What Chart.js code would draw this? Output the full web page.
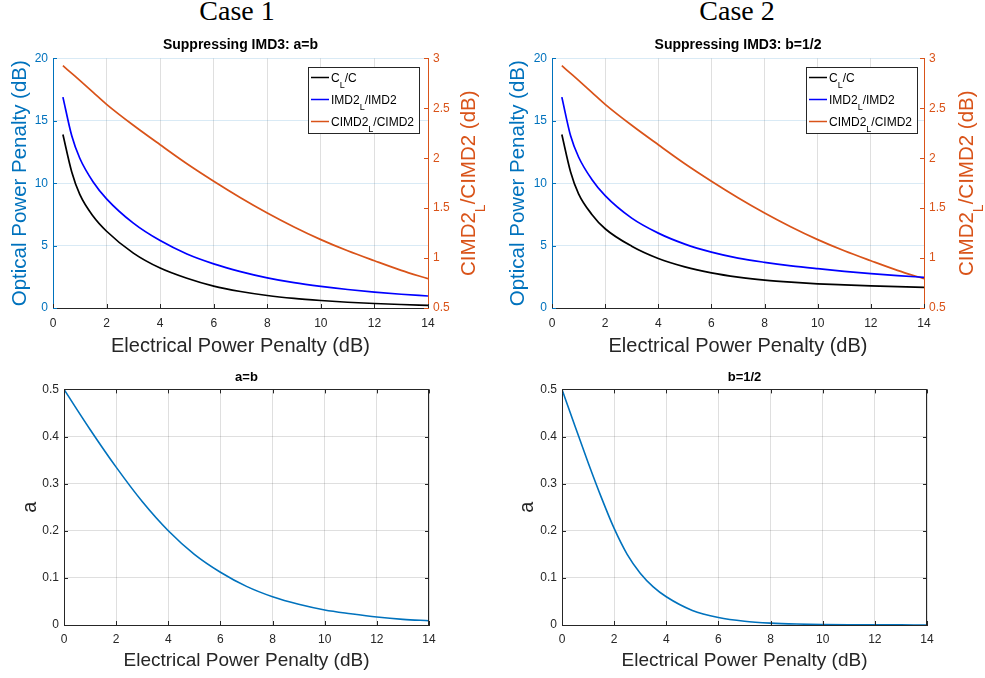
<!DOCTYPE html>
<html>
<head>
<meta charset="utf-8">
<script src="https://cdn.jsdelivr.net/npm/chart.js@4.4.0/dist/chart.umd.min.js"></script>
<style>
  body { margin: 0; background: #fff; }
  #wrap { position: relative; width: 985px; height: 678px; overflow: hidden; }
  canvas { position: absolute; }
  .case { position: absolute; top: -5px; width: 200px; text-align: center;
          font-family: "Liberation Serif", "Times New Roman", serif; font-size: 28px;
          line-height: 32px; color: #000; }
</style>
</head>
<body>
<div id="wrap">
  <div class="case" style="left:137px">Case 1</div>
  <div class="case" style="left:637px">Case 2</div>
  <canvas id="c1" width="490" height="326" style="left:0;top:34px"></canvas>
  <canvas id="c2" width="490" height="326" style="left:495px;top:34px"></canvas>
  <canvas id="c3" width="490" height="313" style="left:0;top:365px"></canvas>
  <canvas id="c4" width="490" height="313" style="left:495px;top:365px"></canvas>
</div>
<script>
// electrical power penalty samples (dB) for the upper plots
const penaltyX = [0.37, 0.7, 1, 1.5, 2, 3, 4, 5, 6, 7, 8, 9, 10, 11, 12, 13, 14];

// case 1 (a=b)
const case1Carrier = [13.9, 10.9, 9.1, 7.35, 6.15, 4.4, 3.2, 2.38, 1.75, 1.32, 1.0, 0.77, 0.6, 0.46, 0.36, 0.28, 0.21];
const case1Imd2 = [16.9, 13.8, 12.0, 10.1, 8.75, 6.8, 5.4, 4.33, 3.54, 2.92, 2.42, 2.03, 1.73, 1.48, 1.27, 1.1, 0.96];
const case1Cimd2 = [2.927, 2.85, 2.78, 2.66, 2.54, 2.33, 2.135, 1.945, 1.77, 1.605, 1.452, 1.312, 1.185, 1.073, 0.973, 0.877, 0.793];

// case 2 (b=1/2)
const case2Carrier = [13.9, 10.9, 9.15, 7.5, 6.35, 4.95, 3.97, 3.3, 2.82, 2.48, 2.24, 2.07, 1.94, 1.85, 1.77, 1.71, 1.66];
const case2Imd2 = [16.9, 13.8, 12.1, 10.3, 9.0, 7.2, 6.0, 5.12, 4.48, 4.0, 3.66, 3.38, 3.15, 2.94, 2.76, 2.6, 2.46];
const case2Cimd2 = [2.927, 2.85, 2.78, 2.66, 2.54, 2.33, 2.135, 1.945, 1.77, 1.605, 1.452, 1.312, 1.185, 1.073, 0.973, 0.877, 0.793];

// lower plots: a vs electrical penalty
const aEqBX = [0, 1, 2, 3, 4, 5, 6, 7, 8, 9, 10, 11, 12, 13, 14];
const aEqB = [0.5, 0.415, 0.335, 0.262, 0.2, 0.15, 0.112, 0.082, 0.06, 0.044, 0.032, 0.024, 0.017, 0.012, 0.009];
const aHalfBX = [0, 0.5, 1, 1.5, 2, 2.5, 3, 3.5, 4, 5, 6, 7, 8, 9, 10, 11, 12, 13, 14];
const aHalfB = [0.5, 0.422, 0.345, 0.272, 0.205, 0.15, 0.11, 0.081, 0.06, 0.031, 0.016, 0.008, 0.004, 0.002, 0.001, 0.0005, 0.0003, 0.0002, 0.0001];

// legend / title text, pieces flagged 1 are subscripts
const legendLabels = [
  [['C', 0], ['L', 1], ['/C', 0]],
  [['IMD2', 0], ['L', 1], ['/IMD2', 0]],
  [['CIMD2', 0], ['L', 1], ['/CIMD2', 0]]
];
const rightAxisTitle = [['CIMD2', 0], ['L', 1], ['/CIMD2 (dB)', 0]];

const FONT = '"Liberation Sans", Arial, Helvetica, sans-serif';
const BLUE = '#0072BD', ORANGE = '#D95319', DARK = '#262626';
Chart.defaults.font.family = FONT;

const pts = (xs, ys) => xs.map((x, i) => ({ x: x, y: ys[i] }));
const plainNum = v => String(Number(v.toFixed(2)));

function subWidth(ctx, parts, size, subSize) {
  let w = 0;
  parts.forEach(([t, sub]) => {
    ctx.font = (sub ? subSize : size) + 'px ' + FONT;
    w += ctx.measureText(t).width;
  });
  return w;
}
function drawSub(ctx, parts, x, y, size, subSize, subDy) {
  let cx = x;
  parts.forEach(([t, sub]) => {
    ctx.font = (sub ? subSize : size) + 'px ' + FONT;
    ctx.fillText(t, cx, sub ? y + subDy : y);
    cx += ctx.measureText(t).width;
  });
}

// matlab-ish inward ticks and box edges
const innerTicks = {
  id: 'innerTicks',
  afterDatasetsDraw(chart, args, o) {
    const { ctx, chartArea: a, scales } = chart;
    const len = 4;
    ctx.save();
    ctx.lineWidth = 1;
    if (o.box) {
      ctx.strokeStyle = DARK;
      ctx.beginPath();
      ctx.moveTo(a.left, Math.round(a.top) + 0.5);
      ctx.lineTo(a.right, Math.round(a.top) + 0.5);
      ctx.moveTo(Math.round(a.right) - 0.5, a.top);
      ctx.lineTo(Math.round(a.right) - 0.5, a.bottom);
      ctx.stroke();
    }
    (o.specs || []).forEach(s => {
      const sc = scales[s.axis];
      ctx.strokeStyle = s.color;
      ctx.beginPath();
      sc.ticks.forEach(t => {
        const p = Math.round(sc.getPixelForValue(t.value)) + 0.5;
        s.sides.forEach(side => {
          if (side === 'bottom') { ctx.moveTo(p, a.bottom); ctx.lineTo(p, a.bottom - len); }
          if (side === 'top') { ctx.moveTo(p, a.top); ctx.lineTo(p, a.top + len); }
          if (side === 'left') { ctx.moveTo(a.left, p); ctx.lineTo(a.left + len, p); }
          if (side === 'right') { ctx.moveTo(a.right, p); ctx.lineTo(a.right - len, p); }
        });
      });
      ctx.stroke();
    });
    ctx.restore();
  }
};

const subLegend = {
  id: 'subLegend',
  afterDatasetsDraw(chart, args, o) {
    if (!o.show) return;
    const { ctx, chartArea: a } = chart;
    const w = 111, h = 66;
    const x0 = Math.round(a.right - o.right - w), y0 = Math.round(a.top + 9);
    ctx.save();
    ctx.fillStyle = '#fff';
    ctx.fillRect(x0, y0, w, h);
    ctx.strokeStyle = DARK;
    ctx.lineWidth = 1;
    ctx.strokeRect(x0 + 0.5, y0 + 0.5, w, h);
    chart.data.datasets.forEach((ds, i) => {
      const y = y0 + 10.5 + i * 22;
      ctx.strokeStyle = ds.borderColor;
      ctx.lineWidth = 1.5;
      ctx.beginPath();
      ctx.moveTo(x0 + 3, y);
      ctx.lineTo(x0 + 21, y);
      ctx.stroke();
      ctx.fillStyle = '#000';
      ctx.textBaseline = 'alphabetic';
      drawSub(ctx, legendLabels[i], x0 + 23, y + 4, 12, 9, 6);
    });
    ctx.restore();
  }
};

const rightTitle = {
  id: 'rightTitle',
  afterDraw(chart, args, o) {
    if (!o.show) return;
    const { ctx, chartArea: a } = chart;
    ctx.save();
    ctx.translate(o.x, (a.top + a.bottom) / 2);
    ctx.rotate(-Math.PI / 2);
    ctx.fillStyle = ORANGE;
    ctx.textBaseline = 'alphabetic';
    const w = subWidth(ctx, rightAxisTitle, 20.5, 14);
    drawSub(ctx, rightAxisTitle, -w / 2, 0, 20.5, 14, 10);
    ctx.restore();
  }
};

function xScale(height, tickPad, titleSize, titlePad) {
  return {
    type: 'linear', min: 0, max: 14,
    afterFit: s => { s.height = height; },
    ticks: { stepSize: 2, color: DARK, padding: tickPad, font: { size: 12 } },
    grid: { color: 'rgba(38,38,38,0.15)', drawTicks: false },
    border: { color: DARK, width: 1 },
    title: { display: true, text: 'Electrical Power Penalty (dB)', color: DARK,
             font: { size: titleSize }, padding: { top: 0, bottom: titlePad } }
  };
}

function topChart(id, title, carrier, imd2, cimd2, leftW, rightW, leftPad, rightX, legRight) {
  new Chart(document.getElementById(id), {
    type: 'line',
    data: {
      datasets: [
        { data: pts(penaltyX, carrier), borderColor: '#000000', yAxisID: 'y' },
        { data: pts(penaltyX, imd2), borderColor: '#0000FF', yAxisID: 'y' },
        { data: pts(penaltyX, cimd2), borderColor: ORANGE, yAxisID: 'y1' }
      ].map(d => Object.assign(d, { borderWidth: 1.7, pointRadius: 0, fill: false, cubicInterpolationMode: 'monotone' }))
    },
    options: {
      responsive: false, animation: false, devicePixelRatio: 1,
      layout: { padding: 0 },
      plugins: {
        legend: { display: false },
        tooltip: { enabled: false },
        title: { display: true, text: title, color: '#000', fullSize: false,
                 font: { size: 14, weight: 'bold' }, padding: { top: 3, bottom: 4.6 } },
        subLegend: { show: true, right: legRight },
        rightTitle: { show: true, x: rightX },
        innerTicks: { specs: [
          { axis: 'x', color: DARK, sides: ['bottom'] },
          { axis: 'y', color: BLUE, sides: ['left'] },
          { axis: 'y1', color: ORANGE, sides: ['right'] }
        ] }
      },
      scales: {
        x: xScale(52, 8, 20, 2),
        y: {
          position: 'left', min: 0, max: 20,
          afterFit: s => { s.width = leftW; },
          ticks: { stepSize: 5, color: BLUE, padding: 5, font: { size: 12 } },
          grid: { color: 'rgba(0,114,189,0.15)', drawTicks: false },
          border: { color: BLUE, width: 1 },
          title: { display: true, text: 'Optical Power Penalty (dB)', color: BLUE,
                   font: { size: 20.5 }, padding: { top: leftPad, bottom: 0 } }
        },
        y1: {
          position: 'right', min: 0.5, max: 3,
          afterFit: s => { s.width = rightW; },
          ticks: { stepSize: 0.5, color: ORANGE, padding: 5, font: { size: 12 }, callback: plainNum },
          grid: { drawOnChartArea: false, drawTicks: false },
          border: { color: ORANGE, width: 1 }
        }
      }
    },
    plugins: [innerTicks, subLegend, rightTitle]
  });
}

function bottomChart(id, title, xs, ys, leftW, rightPad, leftPad) {
  new Chart(document.getElementById(id), {
    type: 'line',
    data: {
      datasets: [{ data: pts(xs, ys), borderColor: BLUE, borderWidth: 1.6, pointRadius: 0,
                   fill: false, cubicInterpolationMode: 'monotone' }]
    },
    options: {
      responsive: false, animation: false, devicePixelRatio: 1,
      layout: { padding: { left: 0, right: rightPad, top: 0, bottom: 0 } },
      plugins: {
        legend: { display: false },
        tooltip: { enabled: false },
        title: { display: true, text: title, color: '#000', fullSize: false,
                 font: { size: 13, weight: 'bold' }, padding: { top: 5, bottom: 3.8 } },
        innerTicks: { box: true, specs: [
          { axis: 'x', color: DARK, sides: ['bottom', 'top'] },
          { axis: 'y', color: DARK, sides: ['left', 'right'] }
        ] }
      },
      scales: {
        x: xScale(53, 7, 19, 5.6),
        y: {
          min: 0, max: 0.5,
          afterFit: s => { s.width = leftW; },
          ticks: { stepSize: 0.1, color: DARK, padding: 5, font: { size: 12 }, callback: plainNum },
          grid: { color: 'rgba(38,38,38,0.15)', drawTicks: false },
          border: { color: DARK, width: 1 },
          title: { display: true, text: 'a', color: DARK, font: { size: 20 },
                   padding: { top: leftPad, bottom: 0 } }
        }
      }
    },
    plugins: [innerTicks]
  });
}

topChart('c1', 'Suppressing IMD3: a=b', case1Carrier, case1Imd2, case1Cimd2, 53, 62, 8, 475, 9);
topChart('c2', 'Suppressing IMD3: b=1/2', case2Carrier, case2Imd2, case2Cimd2, 57, 61, 11, 478, 7);
bottomChart('c3', 'a=b', aEqBX, aEqB, 64, 61, 18);
bottomChart('c4', 'b=1/2', aHalfBX, aHalfB, 67, 58, 20);
</script>
</body>
</html>
